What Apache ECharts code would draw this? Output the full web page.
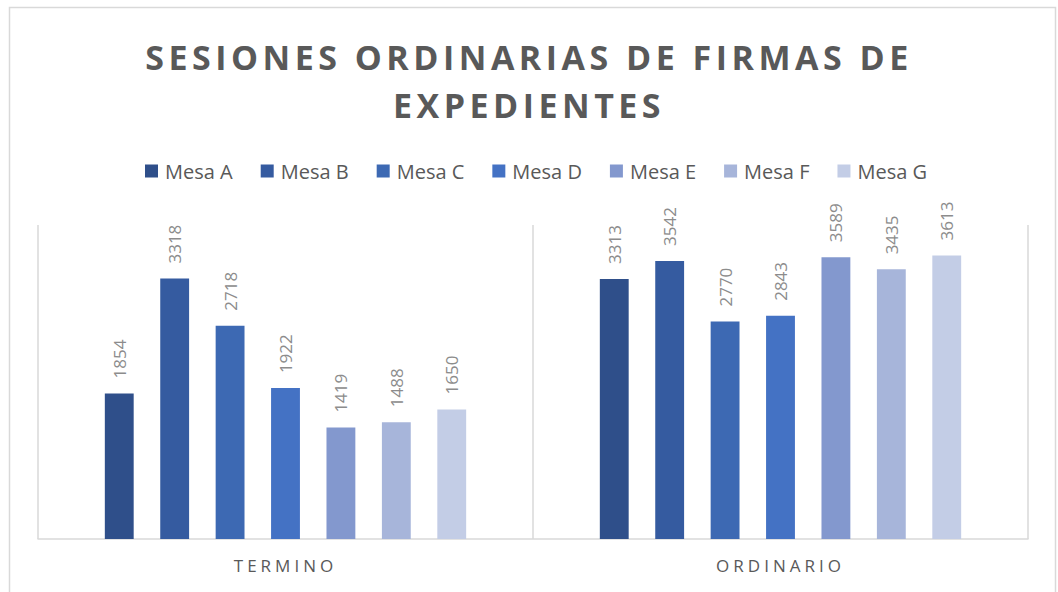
<!DOCTYPE html>
<html>
<head>
<meta charset="utf-8">
<title>Sesiones ordinarias</title>
<script src="https://cdn.jsdelivr.net/npm/echarts@6/dist/echarts.min.js"></script>
<style>
  html, body { margin: 0; padding: 0; background: #fff; }
  #chart { width: 1058px; height: 592px; }
</style>
</head>
<body>
<div id="chart"></div>
<script>
// datos
const categorias = ['TERMINO', 'ORDINARIO'];
const mesas = ['Mesa A', 'Mesa B', 'Mesa C', 'Mesa D', 'Mesa E', 'Mesa F', 'Mesa G'];
const mesaA = [1854, 3313];
const mesaB = [3318, 3542];
const mesaC = [2718, 2770];
const mesaD = [1922, 2843];
const mesaE = [1419, 3589];
const mesaF = [1488, 3435];
const mesaG = [1650, 3613];

const valores = [mesaA, mesaB, mesaC, mesaD, mesaE, mesaF, mesaG];
const colores = ['#2F4F8A', '#355BA0', '#3D69B3', '#4472C4', '#8398CE', '#A7B5DA', '#C3CDE6'];
const titulo = ['SESIONES ORDINARIAS DE FIRMAS DE', 'EXPEDIENTES'];

const chart = echarts.init(document.getElementById('chart'), null, { renderer: 'svg' });

const option = {
  color: colores,
  animation: false,
  title: {
    text: titulo.join('\n'),
    left: 'center',
    top: 28,
    textStyle: {
      fontFamily: 'Open Sans',
      fontWeight: 'bold',
      fontSize: 34,
      lineHeight: 48,
      color: '#595959'
    }
  },
  legend: {
    top: 161,
    left: 145,
    padding: 0,
    itemWidth: 13,
    itemHeight: 13,
    itemGap: 28,
    icon: 'rect',
    textStyle: { fontFamily: 'Open Sans', fontSize: 20, color: '#595959', padding: [0, 0, 0, 2] },
    data: mesas
  },
  graphic: [{
    type: 'rect',
    shape: { x: 9.5, y: 7.5, width: 1046, height: 600 },
    style: { fill: 'none', stroke: '#D9D9D9', lineWidth: 1.5 },
    silent: true
  }],
  grid: { left: 38, right: 30, top: 225, bottom: 53 },
  xAxis: {
    type: 'category',
    data: categorias,
    axisLine: { lineStyle: { color: '#D9D9D9', width: 1.5 } },
    axisTick: { show: false },
    splitLine: { show: true, lineStyle: { color: '#D9D9D9', width: 1.5 } },
    axisLabel: { fontFamily: 'Open Sans', fontSize: 17, color: '#595959', margin: 18 }
  },
  yAxis: {
    type: 'value',
    min: 0,
    max: 4000,
    interval: 500,
    show: false,
    splitLine: { show: false }
  },
  series: mesas.map((nombre, i) => ({
    name: nombre,
    type: 'bar',
    data: valores[i],
    barGap: '92%',
    barCategoryGap: '27%',
    label: {
      show: true,
      position: 'top',
      rotate: 90,
      align: 'left',
      verticalAlign: 'middle',
      distance: 15,
      fontFamily: 'Open Sans',
      fontSize: 17,
      color: '#8C8C8C'
    }
  }))
};

chart.setOption(option);

// espaciado de letras como en el original (título y categorías)
function espaciar() {
  document.querySelectorAll('#chart svg text').forEach(t => {
    const s = t.textContent;
    if (titulo.includes(s)) t.style.letterSpacing = '4.5px';
    else if (categorias.includes(s)) t.style.letterSpacing = '4px';
  });
}
espaciar();
chart.on('finished', espaciar);
window.addEventListener('resize', () => chart.resize());
</script>
</body>
</html>
